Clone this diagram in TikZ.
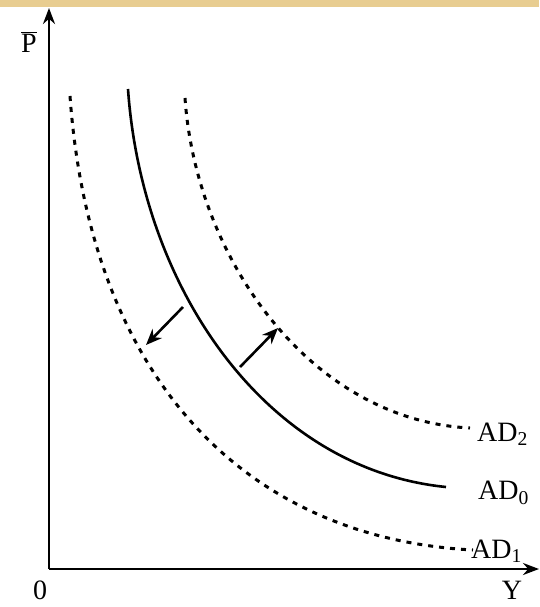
\documentclass[tikz,border=0pt]{standalone}
\usepackage{fontspec}
\setmainfont{Liberation Serif}
\usetikzlibrary{arrows.meta}
\begin{document}
\begin{tikzpicture}[x=1pt,y=-1pt,
  axis/.style={line width=2.6pt,-{Stealth[length=16pt,width=12pt]}},
  solidcurve/.style={line width=2.6pt},
  dashcurve/.style={line width=3pt,dash pattern=on 5pt off 6pt},
  shiftarrow/.style={line width=2.6pt,-{Stealth[length=16pt,width=13pt]}},
  lbl/.style={font=\fontsize{28}{32}\selectfont,inner sep=0pt}]
\useasboundingbox (0,0) rectangle (539,607);
\fill[fill={rgb,255:red,232;green,205;blue,145}] (0,0) rectangle (539,7);
% axes
\coordinate (O) at (49,569);
\coordinate (ytop) at (49,8);
\coordinate (xend) at (539,569);
\draw[axis] (O) -- (ytop);
\draw[axis] (O) -- (xend);
% curves
\coordinate (a0s) at (128,89);
\coordinate (a0e) at (446,487);
\coordinate (a2s) at (185,98);
\coordinate (a2e) at (470,428);
\coordinate (a1s) at (70,96);
\coordinate (a1e) at (473,550);
\draw[solidcurve] (a0s) .. controls (142,289) and (266,469) .. (a0e);
\draw[dashcurve] (a2s) .. controls (196,258) and (310,420) .. (a2e);
\draw[dashcurve] (a1s) .. controls (90,376) and (243,538) .. (a1e);
% shift arrows
\coordinate (la) at (183,307);
\coordinate (lb) at (146,345);
\coordinate (ra) at (240,367);
\coordinate (rb) at (278,328);
\draw[shiftarrow] (la) -- (lb);
\draw[shiftarrow] (ra) -- (rb);
% labels
\node[lbl] (P) at (29,42) {$\overline{\mbox{P}}$};
\node[lbl] (zero) at (40,590) {0};
\node[lbl] (Y) at (512,590) {Y};
\node[lbl,anchor=west] (AD2) at (477,434) {AD\textsubscript{2}};
\node[lbl,anchor=west] (AD0) at (478,493) {AD\textsubscript{0}};
\node[lbl,anchor=west] (AD1) at (471,551) {AD\textsubscript{1}};
\end{tikzpicture}
\end{document}
